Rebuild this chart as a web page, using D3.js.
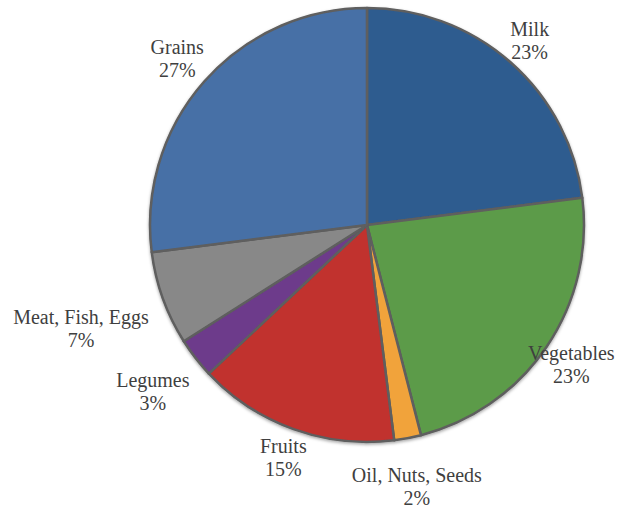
<!DOCTYPE html>
<html>
  <head>
    <script src="https://d3js.org/d3.v7.min.js"></script>
    <style>
      body {
        margin: 0px;
        background: #ffffff;
      }
      .label text {
        font-family: "Liberation Serif", "Times New Roman", serif;
        font-size: 20px;
        fill: #3f3f3f;
      }
    </style>
  </head>
  <body>
    <svg width="618" height="512"></svg>
    <script>
      // food groups, clockwise from 12 o'clock
      var categories = ["Milk", "Vegetables", "Oil, Nuts, Seeds", "Fruits", "Legumes", "Meat, Fish, Eggs", "Grains"];
      var shares = [23, 23, 2, 15, 3, 7, 27];
      var sliceColors = ["#2f5b8f", "#5c9b48", "#f1a33b", "#c1302f", "#6d3b8b", "#888888", "#4770a6"];

      // distance of each label centre from the pie centre (layout only)
      var labelDist = [246, 247, 266, 247, 271, 304, 253];

      var cx = 367, cy = 225, radius = 217;

      var data = categories.map(function (c, i) {
        return { name: c, value: shares[i], idx: i };
      });

      var svg = d3.select("svg");

      var defs = svg.append("defs");
      var shadow = defs.append("filter")
        .attr("id", "shadow")
        .attr("x", "-10%").attr("y", "-10%")
        .attr("width", "120%").attr("height", "120%");
      shadow.append("feDropShadow")
        .attr("dx", 0).attr("dy", 1.5)
        .attr("stdDeviation", 1.5)
        .attr("flood-color", "#000")
        .attr("flood-opacity", 0.35);

      var pie = d3.pie()
        .sort(null)
        .value(function (d) { return d.value; });

      var arc = d3.arc()
        .innerRadius(0)
        .outerRadius(radius);

      var color = d3.scaleOrdinal()
        .domain(categories)
        .range(sliceColors);

      var g = svg.append("g")
        .attr("transform", "translate(" + cx + "," + cy + ")");

      var arcs = pie(data);

      g.append("g")
        .attr("filter", "url(#shadow)")
        .selectAll("path")
        .data(arcs)
        .enter()
        .append("path")
        .attr("d", arc)
        .style("fill", function (d) { return color(d.data.name); })
        .style("stroke", "#5e5e5e")
        .style("stroke-width", 2.5)
        .style("stroke-linejoin", "round");

      var labels = g.append("g")
        .attr("class", "label")
        .selectAll("text")
        .data(arcs)
        .enter()
        .append("text")
        .attr("text-anchor", "middle")
        .attr("transform", function (d) {
          var a = (d.startAngle + d.endAngle) / 2;
          var r = labelDist[d.data.idx];
          return "translate(" + (r * Math.sin(a)) + "," + (-r * Math.cos(a)) + ")";
        });

      labels.append("tspan")
        .attr("x", 0)
        .attr("y", -4)
        .text(function (d) { return d.data.name; });

      labels.append("tspan")
        .attr("x", 0)
        .attr("y", 19)
        .text(function (d) { return d.data.value + "%"; });
    </script>
  </body>
</html>
